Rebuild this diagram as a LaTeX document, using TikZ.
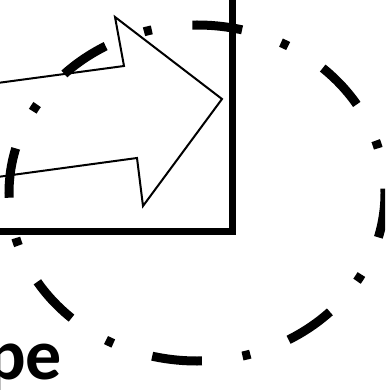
\documentclass[tikz,border=0pt]{standalone}
\usepackage{fontspec}
\setmainfont{Carlito}
\usepackage{tikz}
\usetikzlibrary{calc}

\begin{document}
\begin{tikzpicture}[
  x=1pt, y=-1pt,
  frame/.style={draw=black, line width=7pt},
  blockarrow/.style={draw=black, fill=white, line width=2pt, line join=miter},
  ring/.style={draw=black, line width=9pt,
               dash pattern=on 50pt off 41pt on 8pt off 41pt, dash phase=5pt},
  lbl/.style={anchor=base west, inner sep=0pt, font=\fontsize{72}{76}\selectfont\bfseries}
]
  \useasboundingbox (0,0) rectangle (385,390);
  \clip (0,0) rectangle (385,390);

  % ── Frame ────────────────────────────────────────────────────────────────
  \draw[frame] (-20,-20) rectangle (232,231);

  % ── Block arrow ──────────────────────────────────────────────────────────
  \coordinate (tl) at (-10,84);
  \coordinate (nt) at (124,66);
  \coordinate (bt) at (115,17);
  \coordinate (tip) at (222,99);
  \coordinate (bb) at (143,206);
  \coordinate (nb) at (137,158);
  \coordinate (bl) at (-10,178);
  \draw[blockarrow] (tl) -- (nt) -- (bt) -- (tip) -- (bb) -- (nb) -- (bl);

  % ── Dash-dot ring ────────────────────────────────────────────────────────
  \coordinate (ctr) at (197,193);
  \draw[ring] (ctr) ellipse [x radius=188, y radius=168];

  % ── Label ────────────────────────────────────────────────────────────────
  \node[lbl] (name) at (-13,379) {pe};
\end{tikzpicture}
\end{document}
